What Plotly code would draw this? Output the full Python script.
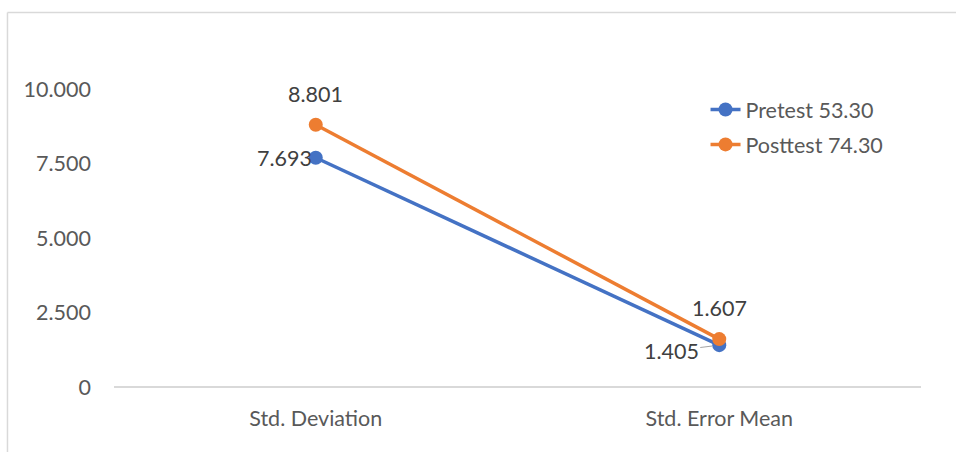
import plotly.graph_objects as go

# Summary statistics for the two test rounds
categories = ["Std. Deviation", "Std. Error Mean"]
pretest = [7.693, 1.405]
posttest = [8.801, 1.607]
series_names = ["Pretest 53.30", "Posttest 74.30"]
y_ticks = [0, 2.5, 5.0, 7.5, 10.0]
y_tick_labels = ["0", "2.500", "5.000", "7.500", "10.000"]

BLUE = "#4472C4"
ORANGE = "#ED7D31"
FONT = "Lato"
FS = 21.5

fig = go.Figure()
fig.add_trace(go.Scatter(
    x=categories, y=pretest, name=series_names[0], mode="lines+markers",
    line=dict(color=BLUE, width=3.5), marker=dict(size=14, color=BLUE),
    cliponaxis=False, legendgroup="pre",
))
fig.add_trace(go.Scatter(
    x=categories, y=posttest, name=series_names[1], mode="lines+markers",
    line=dict(color=ORANGE, width=3.5), marker=dict(size=14, color=ORANGE),
    cliponaxis=False, legendgroup="post",
))

label_font = dict(family=FONT, size=FS, color="#404040")
# Posttest labels sit above the markers
for cat, val in zip(categories, posttest):
    fig.add_annotation(x=cat, y=val, text=f"{val:.3f}", showarrow=False,
                       xanchor="center", yanchor="middle", yshift=31, font=label_font)
# Pretest labels sit to the left of the markers
fig.add_annotation(x=categories[0], y=pretest[0], text=f"{pretest[0]:.3f}", showarrow=False,
                   xanchor="right", yanchor="middle", xshift=-2, font=label_font)
fig.add_annotation(x=categories[1], y=pretest[1], text=f"{pretest[1]:.3f}", showarrow=True,
                   arrowhead=0, arrowwidth=1.2, arrowcolor="#a6a6a6", ax=-48, ay=6,
                   standoff=7, font=label_font)

# Chart frame (top and left edges)
frame = dict(color="#d9d9d9", width=1.5)
fig.add_shape(type="line", xref="paper", yref="paper", x0=-0.132, x1=1.1, y0=1.2567, y1=1.2567, line=frame)
fig.add_shape(type="line", xref="paper", yref="paper", x0=-0.132, x1=-0.132, y0=1.2567, y1=-0.3, line=frame)

fig.update_layout(
    width=956, height=452,
    margin=dict(l=114, r=35, t=89, b=65),
    paper_bgcolor="white", plot_bgcolor="white",
    font=dict(family=FONT, size=FS, color="#595959"),
    showlegend=True,
    legend=dict(x=0.733, y=1.0, xanchor="left", yanchor="top",
                bgcolor="rgba(0,0,0,0)", font=dict(family=FONT, size=FS, color="#595959"),
                traceorder="grouped", tracegroupgap=4, itemsizing="trace"),
    xaxis=dict(range=[-0.5, 1.5], showgrid=False, zeroline=False, showline=False,
               ticks="", ticklabelstandoff=16, fixedrange=True),
    yaxis=dict(range=[0, 10], tickvals=y_ticks, ticktext=y_tick_labels, showgrid=False,
               zeroline=True, zerolinecolor="#d9d9d9", zerolinewidth=1.5,
               showline=False, ticks="", ticklabelstandoff=22),
)

fig.write_html("out.html")
